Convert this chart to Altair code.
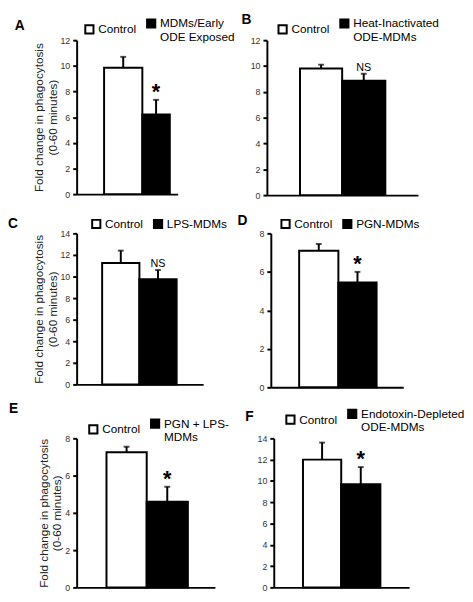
import altair as alt
import pandas as pd

# ---- data ----
panel_letters = ["A", "B", "C", "D", "E", "F"]
control_label = "Control"
treated_labels = [
    "MDMs/Early|ODE Exposed",
    "Heat-Inactivated|ODE-MDMs",
    "LPS-MDMs",
    "PGN-MDMs",
    "PGN + LPS-|MDMs",
    "Endotoxin-Depleted|ODE-MDMs",
]
control_means = [9.85, 9.8, 11.25, 7.1, 7.25, 12.0]
control_upper = [10.7, 10.1, 12.4, 7.45, 7.55, 13.6]
treated_means = [6.2, 8.85, 9.75, 5.45, 4.6, 9.7]
treated_upper = [7.35, 9.4, 10.6, 6.0, 5.4, 11.3]
significance = ["*", "NS", "NS", "*", "*", "*"]
y_max = [12, 12, 14, 8, 8, 14]
y_step = 2
y_title = ["Fold change in phagocytosis", "(0-60 minutes)"]

FONT = "Liberation Sans"

# ---- layout (page-pixel geometry, sizes / offsets only) ----
ROWS = [(8, 203), (203, 400), (400, 598)]   # row boxes (top, bottom)
COLS = [(8, 240), (240, 465)]               # column boxes (left, right)
layout = [
    dict(r=0, c=0, left=75, top=35, w=103, h=157, po=0.537, al=0.854, bw=[39, 28],
         lx=7, ly=-23, tx=-63, ty=-10, ytitle=True),
    dict(r=0, c=1, left=269, top=35, w=154, h=158, po=0.77, al=0.50, bw=[43, 44],
         lx=10, ly=-23, tx=-26, ty=-16, ytitle=False),
    dict(r=1, c=0, left=78, top=232, w=129, h=154, po=0.70, al=0.49, bw=[38, 38],
         lx=14, ly=-16, tx=-70, ty=-5, ytitle=True),
    dict(r=1, c=1, left=276, top=232, w=135, h=157, po=0.71, al=0.52, bw=[40, 39],
         lx=9, ly=-16, tx=-34, ty=-9, ytitle=False),
    dict(r=2, c=0, left=77, top=441, w=141, h=152, po=0.70, al=0.52, bw=[41, 42],
         lx=11, ly=-21, tx=-69, ty=-26, ytitle=True),
    dict(r=2, c=1, left=278, top=441, w=138, h=152, po=0.75, al=0.50, bw=[39, 40],
         lx=11, ly=-31, tx=-29, ty=-18, ytitle=False),
]


def panel(i):
    L = layout[i]
    groups = [control_label, treated_labels[i]]
    df = pd.DataFrame({
        "group": groups,
        "bar": ["c", "t"],
        "mean": [control_means[i], treated_means[i]],
        "upper": [control_upper[i], treated_upper[i]],
        "sig": ["", significance[i]],
    })
    xscale = alt.Scale(domain=groups, paddingInner=0, paddingOuter=L["po"], align=L["al"])
    xaxis = alt.Axis(title=None, labels=False, ticks=False, domain=True,
                     domainColor="black", domainWidth=2)
    yscale = alt.Scale(domain=[0, y_max[i]], nice=False, zero=True)
    axis_kw = dict(values=list(range(0, y_max[i] + 1, y_step)),
                   tickCount=y_max[i] // y_step + 1, grid=False,
                   domainColor="black", domainWidth=2, tickColor="black", tickWidth=2,
                   tickSize=4, labelFont=FONT, labelFontSize=9, labelColor="#333",
                   labelPadding=3, labelOverlap=False, titleFont=FONT, titleFontSize=12,
                   titleFontWeight="normal", titleColor="#222", titlePadding=1)
    if L["ytitle"]:
        yaxis = alt.Axis(title=y_title, **axis_kw)
    else:
        yaxis = alt.Axis(title=None, **axis_kw)

    def X():
        return alt.X("group:N", scale=xscale, axis=xaxis)

    def Y(f):
        return alt.Y(f, scale=yscale, axis=yaxis)

    base = alt.Chart(df)
    bars = base.mark_bar(stroke="black", strokeWidth=2).encode(
        x=X(),
        y=Y("mean:Q"),
        size=alt.Size("bar:N", scale=alt.Scale(domain=["c", "t"], range=L["bw"]), legend=None),
        fill=alt.Fill("group:N",
                      scale=alt.Scale(domain=groups, range=["white", "black"]),
                      legend=alt.Legend(orient="none", legendX=L["lx"], legendY=L["ly"],
                                        direction="horizontal", title=None,
                                        symbolType="square", symbolSize=70,
                                        symbolStrokeColor="black", symbolStrokeWidth=2,
                                        labelFont=FONT, labelFontSize=12, labelColor="black",
                                        labelOffset=3, columnPadding=6, padding=0,
                                        labelLimit=300,
                                        labelExpr="split(datum.label, '|')")),
    )
    err = base.mark_rule(color="black", strokeWidth=2).encode(
        x=X(), y=Y("mean:Q"), y2="upper:Q")
    cap = base.mark_tick(color="black", thickness=2, size=6).encode(
        x=X(), y=Y("upper:Q"))
    star = significance[i] == "*"
    sig = base.transform_filter("datum.sig != ''").mark_text(
        font=FONT, fontSize=22 if star else 11, fontWeight="bold" if star else "normal",
        baseline="alphabetic", dy=-1 if star else -3, color="black").encode(
        x=X(), y=Y("upper:Q"), text="sig:N")
    lab_df = pd.DataFrame({"t": [panel_letters[i]]})
    letter = alt.Chart(lab_df).mark_text(
        font=FONT, fontSize=14, fontWeight="bold", align="left", baseline="alphabetic",
        color="black").encode(x=alt.value(L["tx"]), y=alt.value(L["ty"]), text="t:N")
    # invisible frame that fixes this panel's box in the grid
    c0, c1 = COLS[L["c"]]
    r0, r1 = ROWS[L["r"]]
    frame = alt.Chart(lab_df).mark_rule(opacity=0, strokeWidth=0.01).encode(
        x=alt.value(c0 - L["left"]), x2=alt.value(c1 - L["left"]),
        y=alt.value(r0 - L["top"]), y2=alt.value(r1 - L["top"]))
    return alt.layer(bars, err, cap, sig, letter, frame).properties(
        width=L["w"], height=L["h"])


def indep(c):
    return c.resolve_scale(x="independent", y="independent", fill="independent",
                           size="independent").resolve_legend(
        fill="independent", size="independent").resolve_axis(x="independent", y="independent")


row1 = indep(alt.hconcat(panel(0), panel(1), spacing=0))
row2 = indep(alt.hconcat(panel(2), panel(3), spacing=0))
row3 = indep(alt.hconcat(panel(4), panel(5), spacing=0))
chart = indep(alt.vconcat(row1, row2, row3, spacing=0)).properties(
    padding=0).configure_view(stroke=None)

chart.save("out.html", embed_options={"renderer": "svg", "actions": False})
